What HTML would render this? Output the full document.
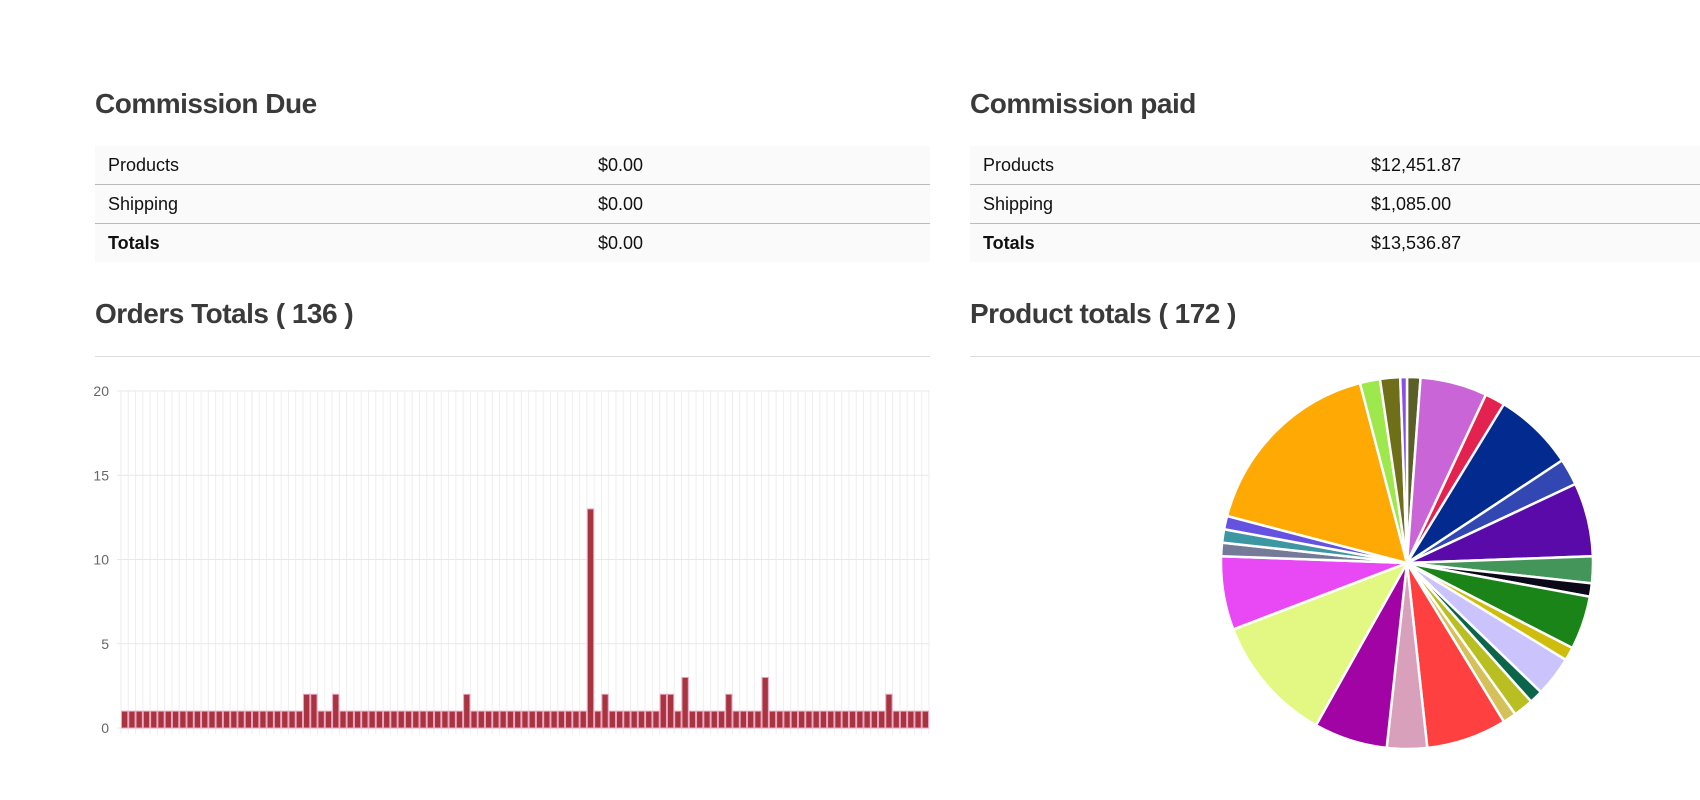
<!DOCTYPE html>
<html><head><meta charset="utf-8"><style>
body{margin:0;width:1700px;height:800px;background:#fff;font-family:"Liberation Sans",sans-serif;color:#111;position:relative;overflow:hidden}
h2{position:absolute;margin:0;font-size:28px;font-weight:bold;color:#3a3a3a;letter-spacing:-0.5px}
table{position:absolute;border-collapse:collapse;font-size:18px;background:#fafafa}
td{height:38px;padding:0 0 0 13px;border-bottom:1px solid #bbb}
tr:last-child td{border-bottom:none}
.hr{position:absolute;height:1px;background:#ddd}
</style></head><body>
<h2 style="left:95px;top:88px">Commission Due</h2>
<table style="left:95px;top:146px;width:835px">
<tr><td style="width:477px">Products</td><td>$0.00</td></tr>
<tr><td>Shipping</td><td>$0.00</td></tr>
<tr><td><b>Totals</b></td><td>$0.00</td></tr></table>
<h2 style="left:970px;top:88px">Commission paid</h2>
<table style="left:970px;top:146px;width:740px">
<tr><td style="width:375px">Products</td><td>$12,451.87</td></tr>
<tr><td>Shipping</td><td>$1,085.00</td></tr>
<tr><td><b>Totals</b></td><td>$13,536.87</td></tr></table>
<h2 style="left:95px;top:298px">Orders Totals ( 136 )</h2>
<h2 style="left:970px;top:298px">Product totals ( 172 )</h2>
<div class="hr" style="left:95px;top:356px;width:835px"></div>
<div class="hr" style="left:970px;top:356px;width:730px"></div>
<svg id="bar" style="position:absolute;left:0;top:0" width="960" height="800"></svg>
<svg id="pie" style="position:absolute;left:1150px;top:330px" width="520" height="470"></svg>
<script>
const orderCounts=[];
for(let i=0;i<111;i++)orderCounts.push(1);
const orderBumps={25:2,26:2,29:2,47:2,64:13,66:2,74:2,75:2,77:3,83:2,88:3,105:2};
for(const k in orderBumps)orderCounts[k]=orderBumps[k];
const yTicks=[0,5,10,15,20];
const productCounts=[2,10,3,12,4,11,4,2,8,2,6,2,3,2,12,6,11,19,11,2,2,2,29,3,3,1];
const productColors=["#5b5e27","#c965d6","#e3224f","#032a8e","#3347b2","#5a0aa8","#44955a","#0b0818","#1a8418","#cebd0a","#cbc3fb","#0b654a","#b9be21","#d6c05a","#ff4040","#d9a0bb","#a203a5","#e3f883","#e849f5","#747a98","#3c97a2","#6552e0","#fea904","#9de84d","#6e6f18","#8a4fe8"];
const NS="http://www.w3.org/2000/svg";
function mk(p,t,a){const e=document.createElementNS(NS,t);for(const k in a)e.setAttribute(k,a[k]);p.appendChild(e);return e;}
const bar=document.getElementById('bar');
const L=121,R=929,T=391,B=728;
const y=v=>B-(v/20)*(B-T);
const bw=(R-L)/orderCounts.length;
const x=i=>L+i*bw;
for(let i=0;i<=orderCounts.length;i++){const g=mk(bar,'line',{x1:x(i),x2:x(i),y1:T,y2:B+6,stroke:'#eee','stroke-width':1});

}
yTicks.forEach(t=>{const g=mk(bar,'line',{x1:L-4,x2:R,y1:y(t),y2:y(t),stroke:'#e8e8e8'});


const tx=mk(bar,'text',{x:L-12,y:y(t)+5,'text-anchor':'end','font-size':14,fill:'#666','font-family':'Liberation Sans, sans-serif'});tx.textContent=t;

});
orderCounts.forEach((v,i)=>{const r=mk(bar,'rect',{x:x(i)+0.5,y:y(v),width:bw-1,height:B-y(v),fill:'#a8343f',stroke:'#e9a3c0','stroke-width':1});

});
const pie=document.getElementById('pie');
const cx=1407-1150,cy=563-330,rad=186;
const total=productCounts.reduce((a,b)=>a+b,0);
let a0=0;
productCounts.forEach((v,i)=>{const a1=a0+v/total*2*Math.PI;
const p=(a)=>[cx+rad*Math.sin(a),cy-rad*Math.cos(a)];
const [x0,y0]=p(a0),[x1,y1]=p(a1);
const s=mk(pie,'path',{d:`M${cx},${cy}L${x0},${y0}A${rad},${rad} 0 ${a1-a0>Math.PI?1:0} 1 ${x1},${y1}Z`,fill:productColors[i],stroke:'#fff','stroke-width':2.5});


a0=a1;});
</script>
</body></html>
